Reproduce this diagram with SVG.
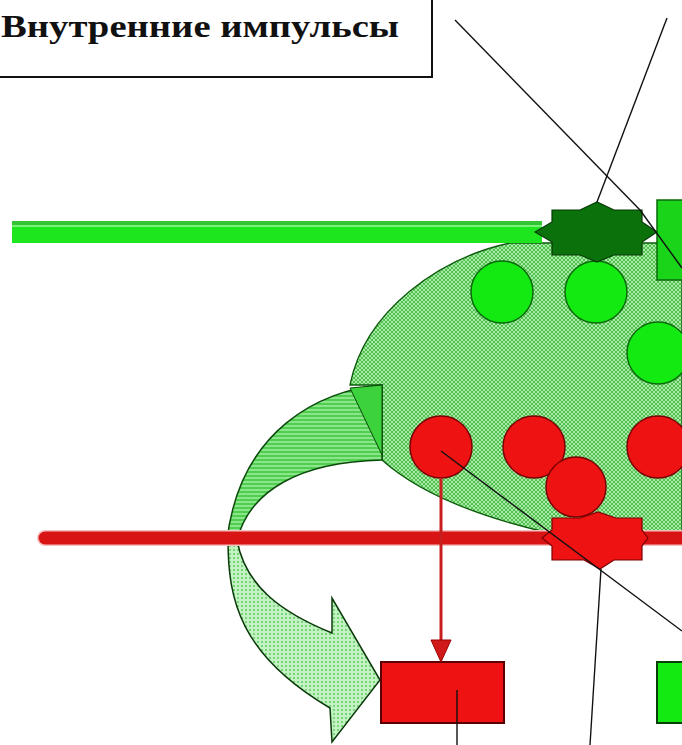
<svg xmlns="http://www.w3.org/2000/svg" width="682" height="745" viewBox="0 0 682 745">
<defs>
<pattern id="hatch" width="4" height="4" patternUnits="userSpaceOnUse">
<rect width="4" height="4" fill="#a6eaa6"/>
<path d="M0,0 L4,4 M4,0 L0,4" stroke="#48bc48" stroke-width="0.9"/>
</pattern>
<pattern id="stripes" width="6" height="4" patternUnits="userSpaceOnUse">
<rect width="6" height="4" fill="#4ed04e"/>
<line x1="0" y1="2" x2="6" y2="2" stroke="#b0f0b0" stroke-width="1.3"/>
</pattern>
<pattern id="dots" width="4" height="4" patternUnits="userSpaceOnUse">
<rect width="4" height="4" fill="#c2f3c2"/>
<circle cx="2" cy="2" r="0.9" fill="#5ac45a"/>
</pattern>
<style>
.gc{fill:#12ea12;stroke:#0a6a0a;stroke-width:1.5}
.rc{fill:#ee1212;stroke:#7a0000;stroke-width:1.5}
.ln{fill:none;stroke:#111;stroke-width:1.4}
.lbl{font-family:"Liberation Serif","Times New Roman",serif;font-weight:bold;font-size:31px;fill:#111}
</style>
</defs>
<rect width="682" height="745" fill="#fff"/>

<g id="label">
<rect x="-5" y="-5" width="437" height="82" fill="#fff" stroke="#111" stroke-width="2"/>
<text class="lbl" x="1" y="37" textLength="398" lengthAdjust="spacingAndGlyphs">Внутренние импульсы</text>
</g>

<g id="cloud">
<path d="M682,243 L510,243 C440,258 365,310 350,385 L382,385 L382,460 C410,485 460,512 545,532 L682,532 Z" fill="url(#hatch)" stroke="#0a5a0a" stroke-width="1.3"/>
</g>

<g id="curved-band">
<path d="M382,385 C320,390 240,430 227,540 L237,540 C250,490 300,462 382,460 Z" fill="url(#stripes)" stroke="#0a4a0a" stroke-width="1.5"/>
<path d="M350,388 L382,385 L382,455 Z" fill="#3cd23c" stroke="#0a4a0a" stroke-width="1"/>
</g>

<g id="curved-arrow">
<path d="M228,540 C228,600 240,655 330,708 L332,742 L380,680 L332,598 L332,633 C280,612 245,585 237,540 Z" fill="url(#dots)" stroke="#0a3a0a" stroke-width="1.5"/>
</g>

<g id="green-bar">
<rect x="12" y="221" width="530" height="22" fill="#1ee61e"/>
<rect x="12" y="221" width="530" height="4" fill="#33c433"/>
<line x1="12" y1="226" x2="542" y2="226" stroke="#9af59a" stroke-width="1.5"/>
</g>

<g id="red-bar">
<line x1="45" y1="538" x2="682" y2="538" stroke="#f6c0c0" stroke-width="16" stroke-linecap="round"/>
<line x1="45" y1="538" x2="682" y2="538" stroke="#d81414" stroke-width="13" stroke-linecap="round"/>
</g>

<g id="green-circles">
<circle class="gc" cx="502" cy="292" r="31"/>
<circle class="gc" cx="596" cy="292" r="31"/>
<circle class="gc" cx="658" cy="353" r="31"/>
</g>

<g id="red-circles">
<circle class="rc" cx="441" cy="447" r="31"/>
<circle class="rc" cx="534" cy="447" r="31"/>
<circle class="rc" cx="658" cy="447" r="31"/>
<circle class="rc" cx="576" cy="487" r="30"/>
</g>

<g id="green-star">
<polygon points="535,232 552,222 552,210 580,210 597,202 614,210 642,210 642,222 657,232 642,242 642,255 614,255 597,262 580,255 552,255 552,242" fill="#0b720b" stroke="#063806" stroke-width="1.2"/>
</g>

<g id="green-rect-top">
<rect x="657" y="200" width="30" height="80" fill="#1ad41a" stroke="#0a6a0a" stroke-width="1.5"/>
</g>

<g id="red-star">
<polygon points="542,538 552,530 552,518 580,518 598,512 616,518 642,518 642,530 648,538 642,546 642,560 614,560 600,569 584,560 552,560 552,546" fill="#ee1212" stroke="#7a0000" stroke-width="1.2"/>
</g>

<g id="red-box">
<rect x="381" y="662" width="123" height="61" fill="#ee1212" stroke="#5a0000" stroke-width="2"/>
</g>

<g id="green-box">
<rect x="657" y="662" width="30" height="61" fill="#12ea12" stroke="#064006" stroke-width="2"/>
</g>

<g id="connectors">
<line class="ln" x1="455" y1="20" x2="640" y2="210"/>
<line class="ln" x1="640" y1="210" x2="682" y2="268"/>
<line class="ln" x1="667" y1="18" x2="597" y2="202"/>
<line class="ln" x1="441" y1="451" x2="682" y2="631"/>
<line class="ln" x1="601" y1="569" x2="590" y2="745"/>
<line class="ln" x1="457" y1="690" x2="457" y2="745"/>
<line x1="441" y1="478" x2="441" y2="645" stroke="#c81e1e" stroke-width="3"/>
<polygon points="431,640 451,640 441,662" fill="#d01a1a" stroke="#9a0000" stroke-width="1"/>
</g>
</svg>
